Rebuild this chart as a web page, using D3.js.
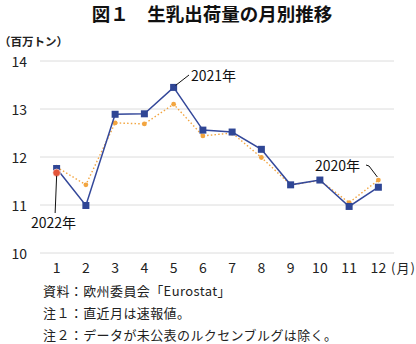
<!DOCTYPE html>
<html>
<head>
<meta charset="utf-8">
<script src="https://cdn.jsdelivr.net/npm/d3@7"></script>
<style>
  html, body { margin: 0; padding: 0; background: #fff; }
  svg { display: block; font-family: "Noto Sans CJK JP", "Noto Sans", sans-serif; }
</style>
</head>
<body>
<svg id="chart" width="416" height="344"></svg>
<script>
// Monthly raw milk deliveries (million tonnes)
const months = ["1", "2", "3", "4", "5", "6", "7", "8", "9", "10", "11", "12"];
const values2020 = [11.79, 11.42, 12.71, 12.69, 13.10, 12.44, 12.50, 11.99, 11.42, 11.51, 11.05, 11.52];
const values2021 = [11.76, 10.99, 12.89, 12.90, 13.45, 12.56, 12.52, 12.16, 11.42, 11.52, 10.97, 11.37];
const values2022 = [11.67];
const yTicks = [10, 11, 12, 13, 14];
const notes = [
  "資料：欧州委員会「Eurostat」",
  "注１：直近月は速報値。",
  "注２：データが未公表のルクセンブルグは除く。"
];

const svg = d3.select("#chart");
const margin = { left: 42, right: 23, top: 61, bottom: 91 };
const W = 416, H = 344;

const x = d3.scaleBand().domain(months).range([margin.left, W - margin.right]);
const y = d3.scaleLinear().domain([10, 14]).range([H - margin.bottom, margin.top]);
const cx = m => x(m) + x.bandwidth() / 2;

// Title
svg.append("text")
  .attr("x", 212).attr("y", 21)
  .attr("text-anchor", "middle")
  .attr("font-size", 18.5).attr("font-weight", "bold")
  .attr("fill", "#111")
  .text("図１　生乳出荷量の月別推移");

// Unit label
svg.append("text")
  .attr("x", -1).attr("y", 46)
  .attr("font-size", 11.5).attr("font-weight", "bold")
  .attr("fill", "#222")
  .text("（百万トン）");

// Horizontal grid
svg.append("g")
  .selectAll("line").data(yTicks).join("line")
  .attr("x1", margin.left - 2).attr("x2", W - margin.right + 1)
  .attr("y1", d => y(d)).attr("y2", d => y(d))
  .attr("stroke", "#dcdcdc").attr("stroke-width", 1);

// Y axis labels
const yAxis = d3.axisLeft(y).tickValues(yTicks).tickFormat(d3.format("d")).tickSize(0).tickPadding(0);
svg.append("g")
  .attr("transform", "translate(27,1.5)")
  .call(yAxis)
  .call(g => g.select(".domain").remove())
  .call(g => g.selectAll("text")
    .attr("font-size", 14).attr("fill", "#222")
    .attr("font-family", "'Noto Sans CJK JP', sans-serif"));

// X axis labels
const xAxis = d3.axisBottom(x).tickSize(0).tickPadding(0);
svg.append("g")
  .attr("transform", "translate(0,263)")
  .call(xAxis)
  .call(g => g.select(".domain").remove())
  .call(g => g.selectAll("text")
    .attr("font-size", 14).attr("fill", "#222")
    .attr("font-family", "'Noto Sans CJK JP', sans-serif"));

svg.append("text")
  .attr("x", 391).attr("y", 273)
  .attr("font-size", 13).attr("fill", "#222")
  .attr("letter-spacing", 1)
  .text("(月)");

// 2020 series: dotted orange line with small markers
const line = vals => d3.line().x((d, i) => cx(months[i])).y(d => y(d))(vals);

svg.append("path")
  .attr("d", line(values2020))
  .attr("fill", "none")
  .attr("stroke", "#f2a540")
  .attr("stroke-width", 1.4)
  .attr("stroke-dasharray", "1.5,2.2");

svg.append("g")
  .selectAll("circle").data(values2020).join("circle")
  .attr("cx", (d, i) => cx(months[i]))
  .attr("cy", d => y(d))
  .attr("r", 2.4)
  .attr("fill", "#f2a540");

// 2021 series: solid navy line with square markers
svg.append("path")
  .attr("d", line(values2021))
  .attr("fill", "none")
  .attr("stroke", "#34489a")
  .attr("stroke-width", 1.5);

const sq = 7;
svg.append("g")
  .selectAll("rect").data(values2021).join("rect")
  .attr("x", (d, i) => cx(months[i]) - sq / 2)
  .attr("y", d => y(d) - sq / 2)
  .attr("width", sq).attr("height", sq)
  .attr("fill", "#2f4695");

// 2022 series: single red point
svg.append("g")
  .selectAll("circle").data(values2022).join("circle")
  .attr("cx", (d, i) => cx(months[i]))
  .attr("cy", d => y(d))
  .attr("r", 3.8)
  .attr("fill", "#e4553a")
  .attr("stroke", "#fff").attr("stroke-width", 0.6);

// Series annotations with leader lines
const labelFont = 14;
// 2021
svg.append("line")
  .attr("x1", cx("5") + 2).attr("y1", y(values2021[4]) - 2)
  .attr("x2", 189).attr("y2", 75)
  .attr("stroke", "#111").attr("stroke-width", 1);
svg.append("text")
  .attr("x", 191).attr("y", 81)
  .attr("font-size", labelFont).attr("fill", "#111")
  .text("2021年");

// 2022
svg.append("line")
  .attr("x1", cx("1")).attr("y1", y(values2022[0]) + 3)
  .attr("x2", cx("1") - 1.5).attr("y2", 213)
  .attr("stroke", "#111").attr("stroke-width", 1);
svg.append("text")
  .attr("x", 31).attr("y", 228)
  .attr("font-size", labelFont).attr("fill", "#111")
  .text("2022年");

// 2020
svg.append("path")
  .attr("d", `M366,165 L369,166 L${cx("12") - 1},${y(values2020[11]) - 3}`)
  .attr("fill", "none")
  .attr("stroke", "#111").attr("stroke-width", 1);
svg.append("text")
  .attr("x", 315).attr("y", 171)
  .attr("font-size", labelFont).attr("fill", "#111")
  .text("2020年");

// Source and notes
svg.append("g")
  .selectAll("text").data(notes).join("text")
  .attr("x", 43)
  .attr("y", (d, i) => 296 + i * 22)
  .attr("font-size", 13).attr("fill", "#222")
  .attr("letter-spacing", 0.4)
  .text(d => d);
</script>
</body>
</html>
